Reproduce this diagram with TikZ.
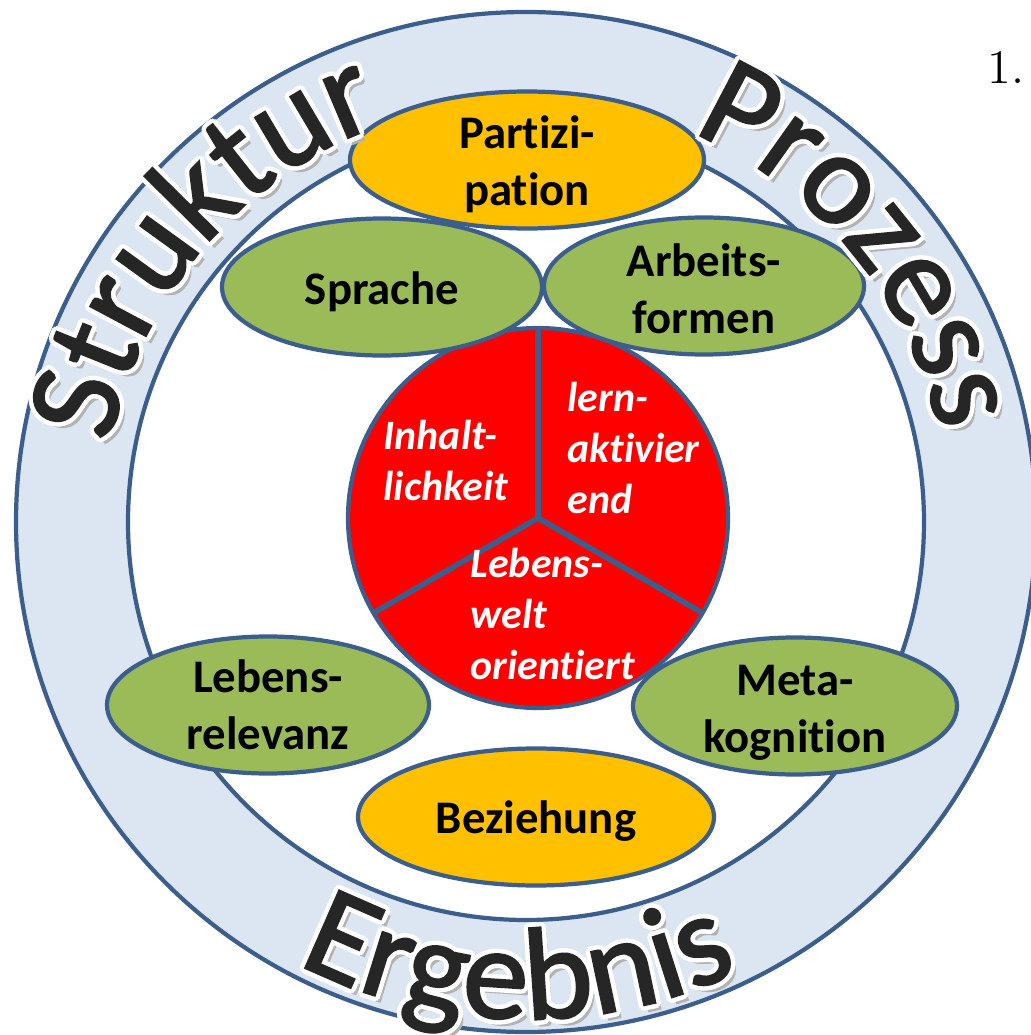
\documentclass[tikz,border=0pt]{standalone}
\usepackage{fontspec}
\usepackage{tikz}
\usetikzlibrary{decorations.text}

\newfontfamily\calibri[Ligatures=NoCommon]{Carlito}
\newfontface\wordface[FakeBold=1.6]{Carlito}
\newcommand\wordfont{\wordface\fontsize{37.5}{40}\selectfont}

\definecolor{ringblue}{RGB}{220,230,242}
\definecolor{rimblue}{RGB}{59,94,140}
\definecolor{partorange}{RGB}{255,192,0}
\definecolor{leafgreen}{RGB}{155,187,89}

\tikzset{
  rim/.style={draw=rimblue, line width=1.2pt},
  lbl/.style={font=\calibri\bfseries\fontsize{13.3}{16.2}\selectfont, align=center, inner sep=0pt},
  wlbl/.style={font=\calibri\bfseries\itshape\fontsize{11.9}{14.5}\selectfont, text=white, align=left, inner sep=0pt, anchor=west},
  wordart/.style 2 args={decorate, decoration={text along path, text align=center, text color=#1, text={|\wordfont|#2}}}
}

\begin{document}
\begin{tikzpicture}

\clip (0,0) rectangle (10.31,10.35);

% Ring
\fill[ringblue, even odd rule] (5.26,5.13) circle (5.10) (5.26,5.13) circle (3.98);
\draw[rim] (5.26,5.13) circle (5.10);
\draw[rim] (5.26,5.13) circle (3.98);

% Red centre, three parts
\draw[rim, fill=red] (5.38,5.17) circle (1.90);
\foreach \a in {90,210,330}
    \draw[rim, line width=1.6pt] (5.38,5.17) -- ++(\a:1.90);

% Ellipses
\foreach \x/\y/\rx/\c in {5.27/8.75/1.77/partorange, 3.82/7.48/1.60/leafgreen,
    7.04/7.49/1.60/leafgreen, 2.68/3.30/1.61/leafgreen,
    7.95/3.29/1.62/leafgreen, 5.36/2.18/1.78/partorange}
    \draw[rim, fill=\c] (\x,\y) ellipse [x radius=\rx, y radius=0.685];

% Labels in the ellipses
\node[lbl] (partizipation) at (5.27,8.71) {Partizi-\\pation};
\node[lbl] (sprache) at (3.82,7.43) {Sprache};
\node[lbl] (arbeitsformen) at (7.04,7.46) {Arbeits-\\formen};
\node[lbl] (lebensrelevanz) at (2.68,3.30) {Lebens-\\relevanz};
\node[lbl] (metakognition) at (7.95,3.22) {Meta-\\kognition};
\node[lbl] (beziehung) at (5.36,2.14) {Beziehung};

% Labels in the red parts
\node[wlbl] (inhalt) at (3.83,5.75) {Inhalt-\\lichkeit};
\node[wlbl] (lernaktiv) at (5.67,5.87) {lern-\\aktivier\\end};
\node[wlbl] (lebenswelt) at (4.70,4.21) {Lebens-\\welt\\orientiert};

% Words on the ring: shadow, white rim, black letters
\path[wordart={black!30}{Struktur}, shift={(0.05,-0.06)}] (5.26,5.13) ++(185:4.23) arc[start angle=185, end angle=94, radius=4.23];
\path[wordart={black!30}{Prozess}, shift={(0.05,-0.06)}] (5.26,5.13) ++(84.6:4.23) arc[start angle=84.6, end angle=-5.4, radius=4.23];
\path[wordart={black!30}{Ergebnis}, shift={(0.05,-0.06)}] (5.26,5.13) ++(224:4.97) arc[start angle=224, end angle=314, radius=4.97];
\foreach \a in {0,30,...,330} {
    \path[wordart={white}{Struktur}, shift={(\a:0.045)}] (5.26,5.13) ++(185:4.23) arc[start angle=185, end angle=94, radius=4.23];
    \path[wordart={white}{Prozess}, shift={(\a:0.045)}] (5.26,5.13) ++(84.6:4.23) arc[start angle=84.6, end angle=-5.4, radius=4.23];
    \path[wordart={white}{Ergebnis}, shift={(\a:0.045)}] (5.26,5.13) ++(224:4.97) arc[start angle=224, end angle=314, radius=4.97];
}
\path[wordart={black!85}{Struktur}] (5.26,5.13) ++(185:4.23) arc[start angle=185, end angle=94, radius=4.23];
\path[wordart={black!85}{Prozess}] (5.26,5.13) ++(84.6:4.23) arc[start angle=84.6, end angle=-5.4, radius=4.23];
\path[wordart={black!85}{Ergebnis}] (5.26,5.13) ++(224:4.97) arc[start angle=224, end angle=314, radius=4.97];

% Number
\node[anchor=base west, inner sep=0pt, font=\fontsize{13.7}{16}\selectfont] (num) at (9.87,9.52) {1.};

\end{tikzpicture}
\end{document}
